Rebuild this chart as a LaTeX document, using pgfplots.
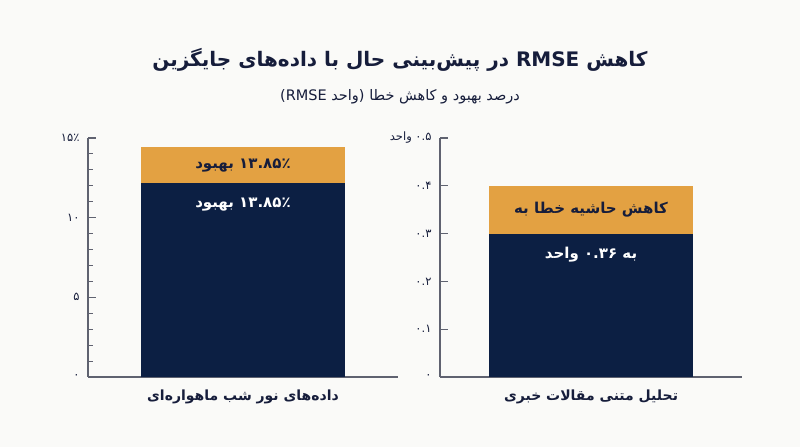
\documentclass[border=0pt]{standalone}
\usepackage{fontspec}
\usepackage{pgfplots}
\pgfplotsset{compat=1.18}
\TeXXeTstate=1
\newfontfamily\arabicfont[Script=Arabic]{DejaVu Sans}
\newfontfamily\latinfont{DejaVu Sans}
\definecolor{bgc}{HTML}{FAFAF8}
\definecolor{navy}{HTML}{0C1F43}
\definecolor{gold}{HTML}{E3A142}
\definecolor{ink}{HTML}{161D3B}
\definecolor{axisgray}{HTML}{5F6270}

\pgfplotsset{
  panel/.style={
    scale only axis,
    anchor=south west,
    height=239bp,
    xmin=-1, xmax=1, ymin=0,
    axis x line=bottom, axis y line=left,
    axis line style={-, axisgray, line width=1.1pt},
    tick align=inside,
    major tick length=8bp, minor tick length=5bp,
    every tick/.style={axisgray, line width=1.1pt},
    xtick={0}, major x tick style={draw=none},
    xticklabel style={font=\arabicfont\fontsize{14bp}{17bp}\selectfont\bfseries, text=ink, yshift=-9bp},
    yticklabel style={font=\arabicfont\fontsize{11.5bp}{13bp}\selectfont, text=ink, xshift=-5bp},
    ybar stacked, bar width=204bp,
    clip=false,
  },
}
\tikzset{barlabel/.style={font=\arabicfont\fontsize{15bp}{18bp}\selectfont\bfseries}}

\begin{document}
\begin{tikzpicture}[x=1bp,y=1bp]
\fill[bgc] (0,0) rectangle (800,447);
\node[text=ink, font=\arabicfont\fontsize{20bp}{24bp}\selectfont\bfseries] at (400,387)
  {\beginR کاهش RMSE در پیش‌بینی حال با داده‌های جایگزین\endR};
\node[text=ink, font=\arabicfont\fontsize{14.5bp}{17bp}\selectfont] at (400,350)
  {{\latinfont(RMSE} \beginR واحد\endR{\latinfont)} \beginR درصد بهبود و کاهش خطا\endR};

% left panel: percent improvement
\begin{axis}[panel, at={(88bp,70bp)}, width=310bp, ymax=15,
  ytick={0,5,10,15}, minor y tick num=4,
  yticklabels={۰,۵,۱۰,{۱۵٪}},
  xticklabels={{\beginR داده‌های نور شب ماهواره‌ای\endR}}]
\addplot[fill=navy, draw=none] coordinates {(0,12.16)};
\addplot[fill=gold, draw=none] coordinates {(0,2.26)};
\coordinate (la) at (axis cs:0,13.29);
\coordinate (lb) at (axis cs:0,10.8);
\end{axis}
\node[barlabel, text=ink] at (la) {\beginR ۱۳.۸۵٪ بهبود\endR};
\node[barlabel, text=white] at (lb) {\beginR ۱۳.۸۵٪ بهبود\endR};

% right panel: RMSE reduction
\begin{axis}[panel, at={(440bp,70bp)}, width=302bp, ymax=0.5,
  ytick={0,0.1,0.2,0.3,0.4,0.5},
  yticklabels={۰,۰.۱,۰.۲,۰.۳,۰.۴,{\beginR ۰.۵ واحد\endR}},
  xticklabels={{\beginR تحلیل متنی مقالات خبری\endR}}]
\addplot[fill=navy, draw=none] coordinates {(0,0.3)};
\addplot[fill=gold, draw=none] coordinates {(0,0.1)};
\coordinate (ra) at (axis cs:0,0.35);
\coordinate (rb) at (axis cs:0,0.255);
\end{axis}
\node[barlabel, text=ink] at (ra) {\beginR کاهش حاشیه خطا به\endR};
\node[barlabel, text=white] at (rb) {\beginR به ۰.۳۶ واحد\endR};
\end{tikzpicture}
\end{document}
